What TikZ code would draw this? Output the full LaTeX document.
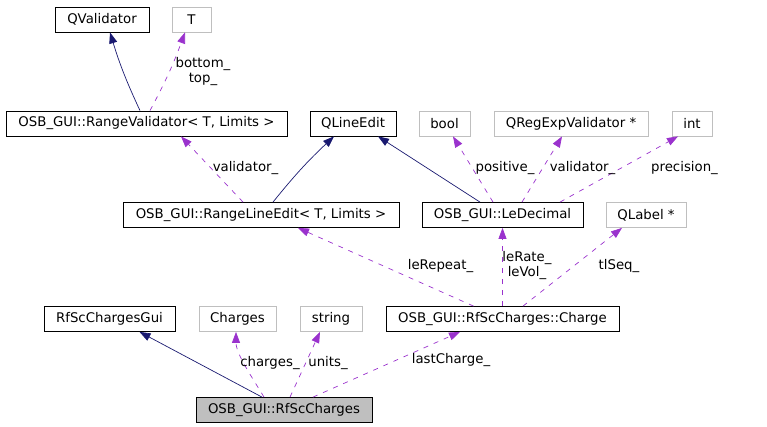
\documentclass[tikz,border=0pt]{standalone}
\usepackage{fontspec}
\setmainfont{DejaVu Sans}
\usepackage{tikz}
\usetikzlibrary{arrows.meta}

\definecolor{navyedge}{HTML}{191970}
\definecolor{useedge}{HTML}{9A32CD}
\definecolor{extgray}{HTML}{BFBFBF}

\begin{document}
\begin{tikzpicture}[x=1pt,y=-1pt,
            font=\fontsize{13.3}{15}\selectfont,
            cls/.style={draw=black, line width=0.8pt, minimum height=25pt,
                inner sep=0pt},
            ext/.style={cls, draw=extgray},
            self/.style={cls, fill=extgray},
            lbl/.style={inner sep=0pt, align=center},
            inherit/.style={navyedge, line width=0.7pt,
                -{Triangle[length=11pt,width=8pt]}},
            uses/.style={useedge, line width=0.7pt, dash pattern=on 5pt off 6pt,
                -{Triangle[length=11pt,width=8pt]}}]
            \useasboundingbox (0,0) rectangle (767,427);

            % top row
            \node[cls, minimum width=94]  (qval) at (102,19.5)  {QValidator};
            \node[ext, minimum width=39]  (tT)   at (191.5,19.5) {T};
            % second row
            \node[cls, minimum width=281] (rv)   at (146.5,123.5) {OSB\_GUI::RangeValidator< T, Limits >};
            \node[cls, minimum width=86]  (qle)  at (353,123.5)  {QLineEdit};
            \node[ext, minimum width=51]  (bool) at (444.5,123.5) {bool};
            \node[ext, minimum width=154] (qrx)  at (571,123.5)  {QRegExpValidator *};
            \node[ext, minimum width=40]  (int)  at (692,123.5)  {int};
            % third row
            \node[cls, minimum width=276] (rle)  at (261,215)    {OSB\_GUI::RangeLineEdit< T, Limits >};
            \node[cls, minimum width=161] (led)  at (502.5,215)  {OSB\_GUI::LeDecimal};
            \node[ext, minimum width=80]  (qlab) at (646,215)    {QLabel *};
            % fourth row
            \node[cls, minimum width=131] (gui)  at (109.5,319)  {RfScChargesGui};
            \node[ext, minimum width=77]  (chs)  at (237.5,319)  {Charges};
            \node[ext, minimum width=62]  (str)  at (331,319)    {string};
            \node[cls, minimum width=233] (chg)  at (502.5,319)  {OSB\_GUI::RfScCharges::Charge};
            \node[self, minimum width=176] (rfc) at (284,410)    {OSB\_GUI::RfScCharges};

            % inheritance
            \draw[inherit] ([xshift=-6.5]rv.north) to[bend left=4] ([xshift=8]qval.south);
            \draw[inherit] ([xshift=12]rle.north) to[bend left=4] ([xshift=-19]qle.south);
            \draw[inherit] ([xshift=-22.5]led.north) -- ([xshift=25]qle.south);
            \draw[inherit] ([xshift=-22]rfc.north) -- ([xshift=30]gui.south);

            % members
            \draw[uses] ([xshift=3.5]rv.north) to[bend right=4] ([xshift=-6.5]tT.south);
            \draw[uses] ([xshift=-18]rle.north) -- ([xshift=-80]rle.north |- rv.south);
            \draw[uses] ([xshift=-9.5]led.north) -- ([xshift=8.5]bool.south);
            \draw[uses] ([xshift=19.5]led.north) -- ([xshift=-9]qrx.south);
            \draw[uses] ([xshift=57.5]led.north) -- ([xshift=-14]int.south);
            \draw[uses] ([xshift=-29]chg.north) -- ([xshift=37]rle.south);
            \draw[uses] (chg.north) -- (led.south);
            \draw[uses] ([xshift=20.5]chg.north) -- ([xshift=-24]qlab.south);
            \draw[uses] ([xshift=-20]rfc.north) .. controls +(-12,-20) and +(0,22) .. ([xshift=-1.5]chs.south);
            \draw[uses] ([xshift=6]rfc.north) -- ([xshift=-11]str.south);
            \draw[uses] ([xshift=29]rfc.north) -- ([xshift=-42.5]chg.south);

            % labels
            \node[lbl] (lbtop)  at (203,72)   {bottom\_\\top\_};
            \node[lbl] (lbval)  at (245.5,168) {validator\_};
            \node[lbl] (lbpos)  at (505,168)  {positive\_};
            \node[lbl] (lbrx)   at (582.5,168) {validator\_};
            \node[lbl] (lbprec) at (684.5,168) {precision\_};
            \node[lbl] (lbrep)  at (440.5,266) {leRepeat\_};
            \node[lbl] (lbrate) at (527,266)  {leRate\_\\leVol\_};
            \node[lbl] (lbseq)  at (619,266)  {tlSeq\_};
            \node[lbl] (lbchs)  at (270,363)  {charges\_};
            \node[lbl] (lbunit) at (328,363)  {units\_};
            \node[lbl] (lblast) at (451,360)  {lastCharge\_};
        \end{tikzpicture}
\end{document}
